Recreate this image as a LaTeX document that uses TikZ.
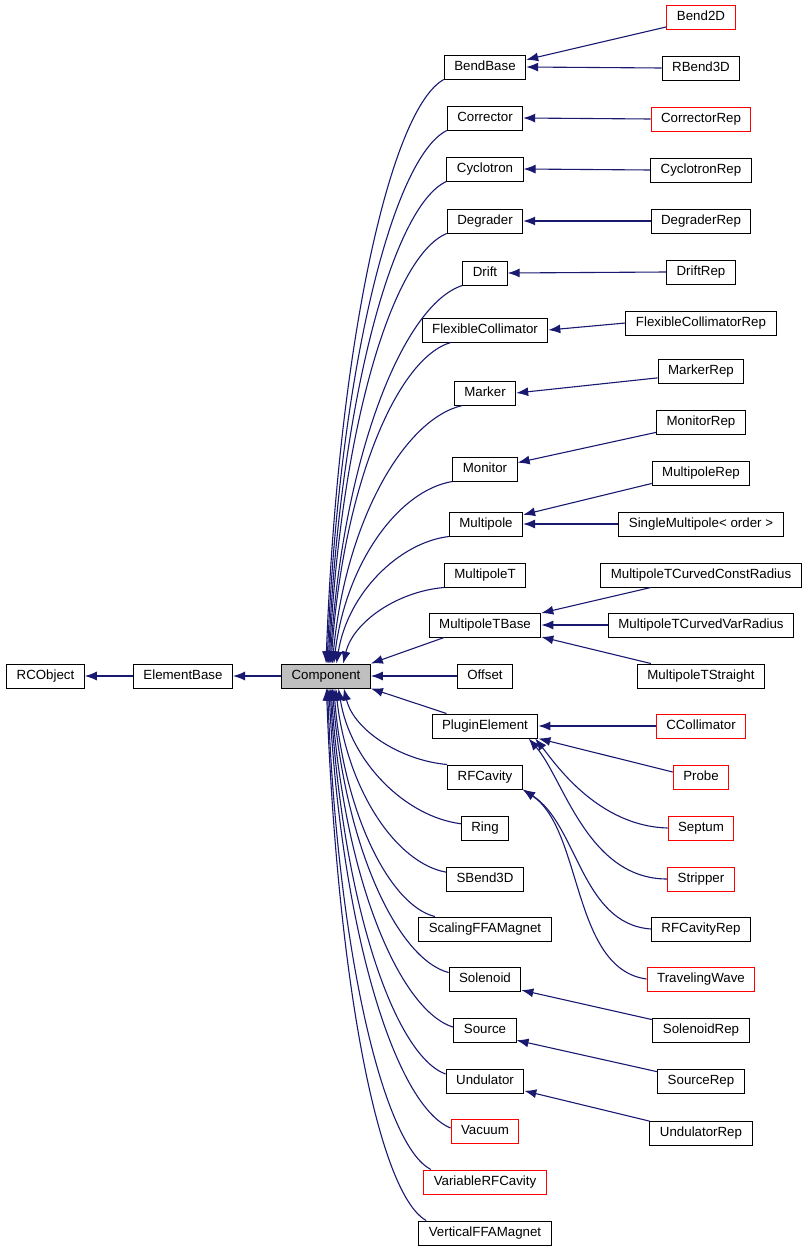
\documentclass[tikz,border=0pt]{standalone}
\usepackage{fontspec}
\setmainfont{Liberation Sans}
\usepackage{xcolor}
\usetikzlibrary{arrows.meta}
\definecolor{edgeblue}{RGB}{25,25,112}
\definecolor{compgray}{RGB}{191,191,191}
\tikzstyle{cls} = [draw=black, line width=1pt, minimum height=24pt, inner xsep=10pt, inner ysep=0pt, text height=9.5pt, text depth=3.5pt, font=\fontsize{13.3}{15}\selectfont]
\tikzstyle{undoc} = [cls, draw=red]
\tikzstyle{inh} = [draw=edgeblue, line width=1.1pt, {Latex[length=12pt,width=9pt]}-]

\begin{document}
\begin{tikzpicture}[x=1pt,y=-1pt]
\useasboundingbox (0,0) rectangle (807,1253);
% left chain
\node[cls] (rcobject) at (45.5,676) {RCObject};
\node[cls] (elembase) at (183,676) {ElementBase};
\node[cls, fill=compgray] (comp) at (326,676) {Component};

% middle column
\node[cls] (bendbase) at (485,67) {BendBase};
\node[cls] (corrector) at (485,118) {Corrector};
\node[cls] (cyclotron) at (485,169) {Cyclotron};
\node[cls] (degrader) at (485,221) {Degrader};
\node[cls] (drift) at (485,273) {Drift};
\node[cls] (flexcoll) at (485,330) {FlexibleCollimator};
\node[cls] (marker) at (485,393) {Marker};
\node[cls] (monitor) at (485,469) {Monitor};
\node[cls] (multipole) at (486,524) {Multipole};
\node[cls] (multipolet) at (485,575) {MultipoleT};
\node[cls] (mtbase) at (485,625) {MultipoleTBase};
\node[cls] (offset) at (485,676) {Offset};
\node[cls] (plugin) at (485,726) {PluginElement};
\node[cls] (rfcavity) at (485,777) {RFCavity};
\node[cls] (ring) at (485,828) {Ring};
\node[cls] (sbend) at (485,879) {SBend3D};
\node[cls] (scaling) at (485,929) {ScalingFFAMagnet};
\node[cls] (solenoid) at (485,979) {Solenoid};
\node[cls] (source) at (485,1030) {Source};
\node[cls] (undulator) at (485,1081) {Undulator};
\node[undoc] (vacuum) at (485,1131) {Vacuum};
\node[undoc] (varrf) at (485,1182) {VariableRFCavity};
\node[cls] (vertffa) at (485,1233) {VerticalFFAMagnet};

% right column
\node[undoc] (bend2d) at (701,17) {Bend2D};
\node[cls] (rbend3d) at (701,68) {RBend3D};
\node[undoc] (correctorrep) at (701,119) {CorrectorRep};
\node[cls] (cyclotronrep) at (701,170) {CyclotronRep};
\node[cls] (degraderrep) at (701,221) {DegraderRep};
\node[cls] (driftrep) at (701,272) {DriftRep};
\node[cls] (flexcollrep) at (701,323) {FlexibleCollimatorRep};
\node[cls] (markerrep) at (701,371) {MarkerRep};
\node[cls] (monitorrep) at (701,422) {MonitorRep};
\node[cls] (multipolerep) at (701,473) {MultipoleRep};
\node[cls] (singlemult) at (701,524) {SingleMultipole< order >};
\node[cls] (mtccr) at (701,575) {MultipoleTCurvedConstRadius};
\node[cls] (mtcvr) at (701,625) {MultipoleTCurvedVarRadius};
\node[cls] (mtstraight) at (701,676) {MultipoleTStraight};
\node[undoc] (ccoll) at (701,726) {CCollimator};
\node[undoc] (probe) at (701,777) {Probe};
\node[undoc] (septum) at (701,828) {Septum};
\node[undoc] (stripper) at (701,879) {Stripper};
\node[cls] (rfcavityrep) at (701,929) {RFCavityRep};
\node[undoc] (travwave) at (701,979) {TravelingWave};
\node[cls] (solenoidrep) at (701,1030) {SolenoidRep};
\node[cls] (sourcerep) at (701,1081) {SourceRep};
\node[cls] (undulatorrep) at (701,1133) {UndulatorRep};

% base chain
\draw[inh] (rcobject) -- (elembase);
\draw[inh] (elembase) -- (comp);

% Component -> upper children
\draw[inh] (comp.90) .. controls +(12,-322) and +(-53,29) .. (bendbase.south west);
\draw[inh] (comp.85) .. controls +(12,-294) and +(-54,27) .. (corrector.south west);
\draw[inh] (comp.80) .. controls +(12,-266) and +(-53,24) .. (cyclotron.south west);
\draw[inh] (comp.76) .. controls +(12,-237) and +(-54,22) .. (degrader.south west);
\draw[inh] (comp.72) .. controls +(13,-208) and +(-59,19) .. (drift.south west);
\draw[inh] (comp.68) .. controls +(12,-177) and +(-54,16) .. (flexcoll.200);
\draw[inh] (comp.63) .. controls +(13,-142) and +(-58,13) .. (marker.209);
\draw[inh] (comp.58) .. controls +(12,-100) and +(-54,9) .. (monitor.south west);
\draw[inh] (comp.50) .. controls +(11,-70) and +(-50,6) .. (multipole.south west);
\draw[inh] (comp.36) .. controls +(10,-42) and +(-46,4) .. (multipolet.south west);
\draw[inh] (comp.north east) -- (mtbase.197);
\draw[inh] (comp.east) -- (offset.west);
\draw[inh] (comp.south east) -- (plugin.162);

% Component -> lower children
\draw[inh] (comp.-35) .. controls +(10,42) and +(-46,-4) .. (rfcavity.north west);
\draw[inh] (comp.-45) .. controls +(12,74) and +(-55,-7) .. (ring.170);
\draw[inh] (comp.-52) .. controls +(11,101) and +(-50,-9) .. (sbend.170);
\draw[inh] (comp.-58) .. controls +(10,125) and +(-45,-11) .. (scaling.166);
\draw[inh] (comp.-63) .. controls +(12,156) and +(-52,-14) .. (solenoid.170);
\draw[inh] (comp.-68) .. controls +(12,186) and +(-55,-17) .. (source.175);
\draw[inh] (comp.-72) .. controls +(12,212) and +(-52,-19) .. (undulator.170);
\draw[inh] (comp.-77) .. controls +(12,242) and +(-55,-22) .. (vacuum.175);
\draw[inh] (comp.-83) .. controls +(10,265) and +(-47,-24) .. (varrf.167);
\draw[inh] (comp.-88) .. controls +(11,293) and +(-48,-27) .. (vertffa.168);

% middle -> right
\draw[inh] (bendbase.10) -- (bend2d.196);
\draw[inh] (bendbase.east) -- (rbend3d.west);
\draw[inh] (corrector.east) -- (correctorrep.west);
\draw[inh] (cyclotron.east) -- (cyclotronrep.west);
\draw[inh] (degrader.east) -- (degraderrep.west);
\draw[inh] (drift.east) -- (driftrep.west);
\draw[inh] (flexcoll.east) -- (flexcollrep.west);
\draw[inh] (marker.east) -- (markerrep.189);
\draw[inh] (monitor.11) -- (monitorrep.193);
\draw[inh] (multipole.14) -- (multipolerep.192);
\draw[inh] (multipole.east) -- (singlemult.west);
\draw[inh] (mtbase.12) -- (mtccr.194);
\draw[inh] (mtbase.east) -- (mtcvr.west);
\draw[inh] (mtbase.348) -- (mtstraight.166);
\draw[inh] (plugin.east) -- (ccoll.west);
\draw[inh] (plugin.south east) -- (probe.170);
\draw[inh] (plugin.346) .. controls +(20,25) and +(-70,-2) .. (septum.west);
\draw[inh] (plugin.344) .. controls +(35,40) and +(-80,0) .. (stripper.west);
\draw[inh] (rfcavity.south east) .. controls +(55,35) and +(-70,-5) .. (rfcavityrep.west);
\draw[inh] (rfcavity.south east) .. controls +(60,40) and +(-75,-10) .. (travwave.west);
\draw[inh] (solenoid.343) -- (solenoidrep.168);
\draw[inh] (source.342) -- (sourcerep.168);
\draw[inh] (undulator.346) -- (undulatorrep.167);
\end{tikzpicture}
\end{document}
